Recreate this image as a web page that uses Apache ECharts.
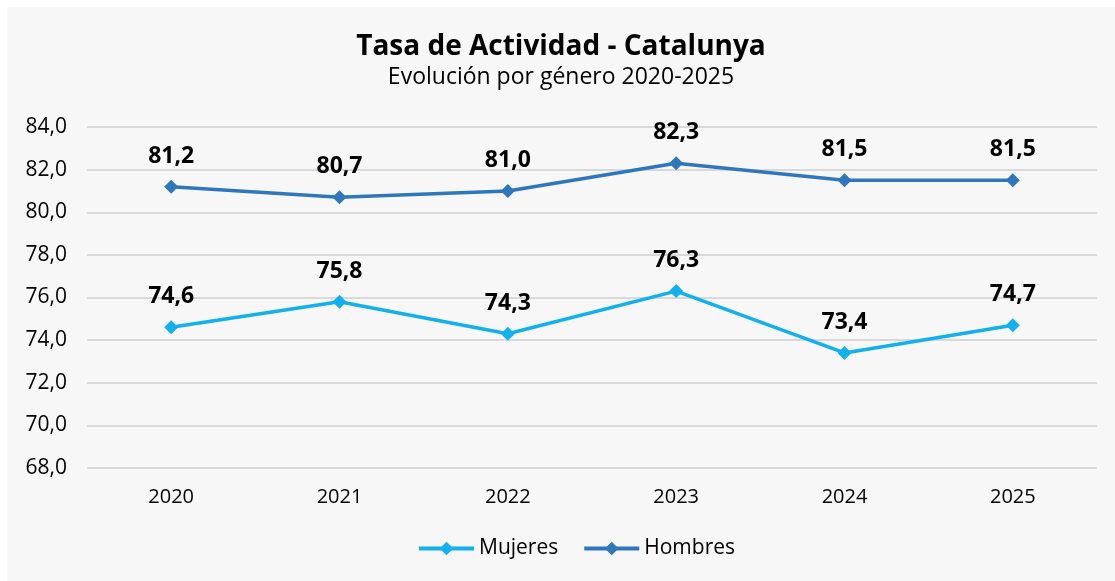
<!DOCTYPE html>
<html><head><meta charset="utf-8">
<script src="https://cdn.jsdelivr.net/npm/echarts@6/dist/echarts.min.js"></script>
<style>html,body{margin:0;padding:0;background:#fff}#c{position:absolute;left:7px;top:7px;width:1108px;height:574px;background:#f7f7f7}</style>
</head><body><div id="c"></div>
<script>
const categories = ['2020','2021','2022','2023','2024','2025'];
const mujeres = [74.6, 75.8, 74.3, 76.3, 73.4, 74.7];
const hombres = [81.2, 80.7, 81.0, 82.3, 81.5, 81.5];
const fmt = v => Number(v).toFixed(1).replace('.', ',');
const FONT = 'Open Sans';
const chart = echarts.init(document.getElementById('c'));
chart.setOption({
  backgroundColor: '#f7f7f7',
  animation: false,
  title: {
    text: 'Tasa de Actividad - Catalunya',
    subtext: 'Evolución por género 2020-2025',
    left: 'center', top: 21, itemGap: 5,
    textStyle: {fontFamily: FONT, fontSize: 28, fontWeight: 'bold', color: '#000'},
    subtextStyle: {fontFamily: FONT, fontSize: 23, color: '#000'}
  },
  legend: {
    bottom: 17, left: 405, itemWidth: 55, itemHeight: 17, itemGap: 24,
    lineStyle: {width: 4},
    textStyle: {fontFamily: FONT, fontSize: 21, color: '#000'},
    data: ['Mujeres', 'Hombres']
  },
  grid: {left: 80, right: 18, top: 120, bottom: 113},
  xAxis: {
    type: 'category', data: categories, boundaryGap: true,
    axisLine: {show: false}, axisTick: {show: false},
    axisLabel: {fontFamily: FONT, fontSize: 20, color: '#000', margin: 19}
  },
  yAxis: {
    type: 'value', min: 68, max: 84, interval: 2,
    axisLabel: {fontFamily: FONT, fontSize: 21, color: '#000', formatter: fmt, margin: 20},
    splitLine: {lineStyle: {color: '#d9d9d9', width: 2}},
    axisLine: {show: false}, axisTick: {show: false}
  },
  series: [
    {name: 'Mujeres', type: 'line', data: mujeres, symbol: 'diamond', symbolSize: 14,
     itemStyle: {color: '#13b0ee'}, lineStyle: {color: '#13b0ee', width: 3.5},
     label: {show: true, position: 'top', distance: 12, formatter: p => fmt(p.value),
       fontFamily: FONT, fontSize: 23, fontWeight: 'bold', color: '#000'}},
    {name: 'Hombres', type: 'line', data: hombres, symbol: 'diamond', symbolSize: 14,
     itemStyle: {color: '#2e77bd'}, lineStyle: {color: '#2e77bd', width: 3.5},
     label: {show: true, position: 'top', distance: 12, formatter: p => fmt(p.value),
       fontFamily: FONT, fontSize: 23, fontWeight: 'bold', color: '#000'}}
  ]
});
</script></body></html>
